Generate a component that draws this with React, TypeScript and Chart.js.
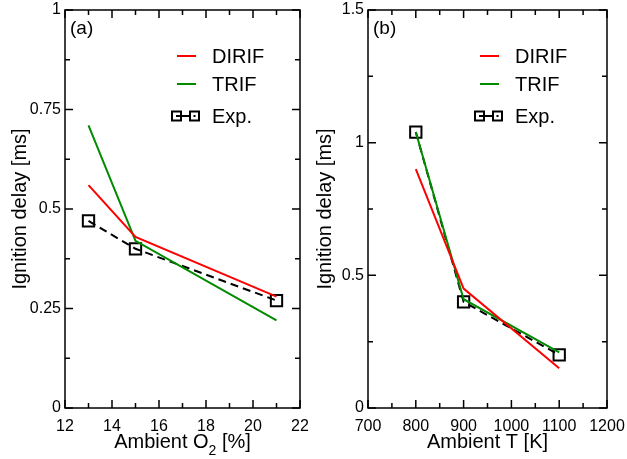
import React, { useEffect, useRef } from "react";
import { Chart, registerables } from "chart.js";

Chart.register(...registerables);

// Panel (a): ambient O2 sweep
const O2_X = [13, 15, 21];
const O2_DIRIF = [0.56, 0.43, 0.28];
const O2_TRIF = [0.71, 0.42, 0.22];
const O2_EXP = [0.47, 0.4, 0.27];
const O2_XTICKS = [12, 14, 16, 18, 20, 22];
const O2_YTICKS = [0, 0.25, 0.5, 0.75, 1];

// Panel (b): ambient temperature sweep
const T_X = [800, 900, 1100];
const T_DIRIF = [0.9, 0.45, 0.15];
const T_TRIF = [1.04, 0.41, 0.21];
const T_EXP = [1.04, 0.4, 0.2];
const T_XTICKS = [700, 800, 900, 1000, 1100, 1200];
const T_YTICKS = [0, 0.5, 1, 1.5];

const SERIES_NAMES = ["DIRIF", "TRIF", "Exp."];
const RED = "#ff0000";
const GREEN = "rgb(0,139,0)";
const FONT = "'Liberation Sans', Arial, Helvetica, sans-serif";

type PanelCfg = {
  label: string;
  xs: number[];
  dirif: number[];
  trif: number[];
  exp: number[];
  xticks: number[];
  yticks: number[];
  xTitle: string;
  xSub: string;
  xTitleRest: string;
  yAxisWidth: number;
  padRight: number;
  yTitleX: number;
};

function minorTicks(major: number[]): number[] {
  const out: number[] = [];
  for (let i = 0; i < major.length - 1; i++) out.push((major[i] + major[i + 1]) / 2);
  return out;
}

const framePlugin = {
  id: "frameDecor",
  afterDraw(chart: any) {
    const cfg: PanelCfg = chart.options.plugins.frameDecor.cfg;
    const ctx = chart.ctx as CanvasRenderingContext2D;
    const a = chart.chartArea;
    const xs = chart.scales.x;
    const ys = chart.scales.y;
    ctx.save();
    ctx.strokeStyle = "#000";
    ctx.lineWidth = 1.5;
    ctx.strokeRect(a.left, a.top, a.right - a.left, a.bottom - a.top);
    const major = 8;
    const minor = 5;
    ctx.beginPath();
    const xt = (v: number, len: number) => {
      const p = xs.getPixelForValue(v);
      ctx.moveTo(p, a.bottom);
      ctx.lineTo(p, a.bottom - len);
      ctx.moveTo(p, a.top);
      ctx.lineTo(p, a.top + len);
    };
    const yt = (v: number, len: number) => {
      const p = ys.getPixelForValue(v);
      ctx.moveTo(a.left, p);
      ctx.lineTo(a.left + len, p);
      ctx.moveTo(a.right, p);
      ctx.lineTo(a.right - len, p);
    };
    cfg.xticks.forEach((v) => xt(v, major));
    minorTicks(cfg.xticks).forEach((v) => xt(v, minor));
    cfg.yticks.forEach((v) => yt(v, major));
    minorTicks(cfg.yticks).forEach((v) => yt(v, minor));
    ctx.stroke();

    // panel label
    ctx.fillStyle = "#000";
    ctx.font = `19px ${FONT}`;
    ctx.textAlign = "left";
    ctx.textBaseline = "middle";
    ctx.fillText(cfg.label, a.left + 5, a.top + 19);

    // x title with subscript
    const mainF = `20px ${FONT}`;
    const subF = `14px ${FONT}`;
    ctx.font = mainF;
    const w1 = ctx.measureText(cfg.xTitle).width;
    const w3 = ctx.measureText(cfg.xTitleRest).width;
    ctx.font = subF;
    const w2 = cfg.xSub ? ctx.measureText(cfg.xSub).width : 0;
    const total = w1 + w2 + w3;
    const cx = (a.left + a.right) / 2;
    let x0 = cx - total / 2;
    const ty = 442;
    ctx.textBaseline = "middle";
    ctx.font = mainF;
    ctx.fillText(cfg.xTitle, x0, ty);
    x0 += w1;
    if (cfg.xSub) {
      ctx.font = subF;
      ctx.fillText(cfg.xSub, x0, ty + 9);
      x0 += w2;
    }
    ctx.font = mainF;
    ctx.fillText(cfg.xTitleRest, x0, ty);

    // y title
    ctx.save();
    ctx.translate(cfg.yTitleX, (a.top + a.bottom) / 2);
    ctx.rotate(-Math.PI / 2);
    ctx.textAlign = "center";
    ctx.font = mainF;
    ctx.fillText("Ignition delay [ms]", 0, 0);
    ctx.restore();

    // legend
    const lx = a.left + 112;
    const rows = [a.top + 46, a.top + 74, a.top + 106];
    ctx.font = `20px ${FONT}`;
    ctx.textAlign = "left";
    ctx.lineWidth = 2;
    ctx.strokeStyle = RED;
    ctx.beginPath();
    ctx.moveTo(lx, rows[0]);
    ctx.lineTo(lx + 19, rows[0]);
    ctx.stroke();
    ctx.strokeStyle = GREEN;
    ctx.beginPath();
    ctx.moveTo(lx, rows[1]);
    ctx.lineTo(lx + 19, rows[1]);
    ctx.stroke();
    ctx.strokeStyle = "#000";
    ctx.beginPath();
    ctx.rect(lx - 5, rows[2] - 4.5, 9, 9);
    ctx.rect(lx + 13, rows[2] - 4.5, 9, 9);
    ctx.moveTo(lx - 1, rows[2]);
    ctx.lineTo(lx + 13, rows[2]);
    ctx.stroke();
    ctx.fillStyle = "#000";
    ctx.fillRect(lx + 16.5, rows[2] - 1, 2, 2);
    ctx.fillText(SERIES_NAMES[0], lx + 35, rows[0] + 1);
    ctx.fillText(SERIES_NAMES[1], lx + 35, rows[1] + 1);
    ctx.fillText(SERIES_NAMES[2], lx + 35, rows[2] + 1);
    ctx.restore();
  },
};

function Panel({ cfg, left, width }: { cfg: PanelCfg; left: number; width: number }) {
  const ref = useRef<HTMLCanvasElement | null>(null);
  useEffect(() => {
    if (!ref.current) return;
    const toPts = (ys: number[]) => cfg.xs.map((x, i) => ({ x, y: ys[i] }));
    const chart = new Chart(ref.current, {
      type: "scatter",
      data: {
        datasets: [
          {
            label: SERIES_NAMES[0],
            data: toPts(cfg.dirif),
            showLine: true,
            borderColor: RED,
            borderWidth: 2,
            pointRadius: 0,
          },
          {
            label: SERIES_NAMES[1],
            data: toPts(cfg.trif),
            showLine: true,
            borderColor: GREEN,
            borderWidth: 2,
            pointRadius: 0,
          },
          {
            label: SERIES_NAMES[2],
            data: toPts(cfg.exp),
            showLine: true,
            borderColor: "#000",
            borderWidth: 2,
            borderDash: [8, 5],
            pointStyle: "rect",
            pointRadius: 8,
            pointBorderWidth: 2,
            pointBorderColor: "#000",
            pointBackgroundColor: "rgba(0,0,0,0)",
          },
        ],
      },
      options: {
        animation: false,
        responsive: false,
        maintainAspectRatio: false,
        layout: { padding: { left: 0, right: cfg.padRight, top: 10, bottom: 0 } },
        plugins: {
          legend: { display: false },
          tooltip: { enabled: false },
          frameDecor: { cfg },
        } as any,
        scales: {
          x: {
            type: "linear",
            min: cfg.xticks[0],
            max: cfg.xticks[cfg.xticks.length - 1],
            grid: { display: false, drawTicks: false },
            border: { display: false },
            afterBuildTicks: (s: any) => {
              s.ticks = cfg.xticks.map((v) => ({ value: v }));
            },
            afterFit: (s: any) => {
              s.height = 51;
              s.paddingLeft = 0;
              s.paddingRight = 0;
            },
            ticks: {
              autoSkip: false,
              maxRotation: 0,
              padding: 9,
              color: "#000",
              font: { family: FONT, size: 16 },
              callback: (v: any) => String(v),
            },
          },
          y: {
            type: "linear",
            min: cfg.yticks[0],
            max: cfg.yticks[cfg.yticks.length - 1],
            grid: { display: false, drawTicks: false },
            border: { display: false },
            afterBuildTicks: (s: any) => {
              s.ticks = cfg.yticks.map((v) => ({ value: v }));
            },
            afterFit: (s: any) => {
              s.width = cfg.yAxisWidth;
              s.paddingTop = 0;
              s.paddingBottom = 0;
            },
            ticks: {
              autoSkip: false,
              padding: 4,
              color: "#000",
              font: { family: FONT, size: 16 },
              callback: (v: any) => String(v),
            },
          },
        },
      } as any,
      plugins: [framePlugin],
    });
    return () => chart.destroy();
  }, [cfg]);
  return (
    <canvas
      ref={ref}
      width={width}
      height={459}
      style={{ position: "absolute", left, top: 0, width, height: 459 }}
    />
  );
}

const CFG_A: PanelCfg = {
  label: "(a)",
  xs: O2_X,
  dirif: O2_DIRIF,
  trif: O2_TRIF,
  exp: O2_EXP,
  xticks: O2_XTICKS,
  yticks: O2_YTICKS,
  xTitle: "Ambient O",
  xSub: "2",
  xTitleRest: " [%]",
  yAxisWidth: 65,
  padRight: 5,
  yTitleX: 20,
};

const CFG_B: PanelCfg = {
  label: "(b)",
  xs: T_X,
  dirif: T_DIRIF,
  trif: T_TRIF,
  exp: T_EXP,
  xticks: T_XTICKS,
  yticks: T_YTICKS,
  xTitle: "Ambient T [K]",
  xSub: "",
  xTitleRest: "",
  yAxisWidth: 58,
  padRight: 20,
  yTitleX: 15,
};

export default function App() {
  return (
    <div style={{ position: "fixed", left: 0, top: 0, width: 627, height: 459, background: "#fff" }}>
      <Panel cfg={CFG_A} left={0} width={310} />
      <Panel cfg={CFG_B} left={310} width={317} />
    </div>
  );
}
